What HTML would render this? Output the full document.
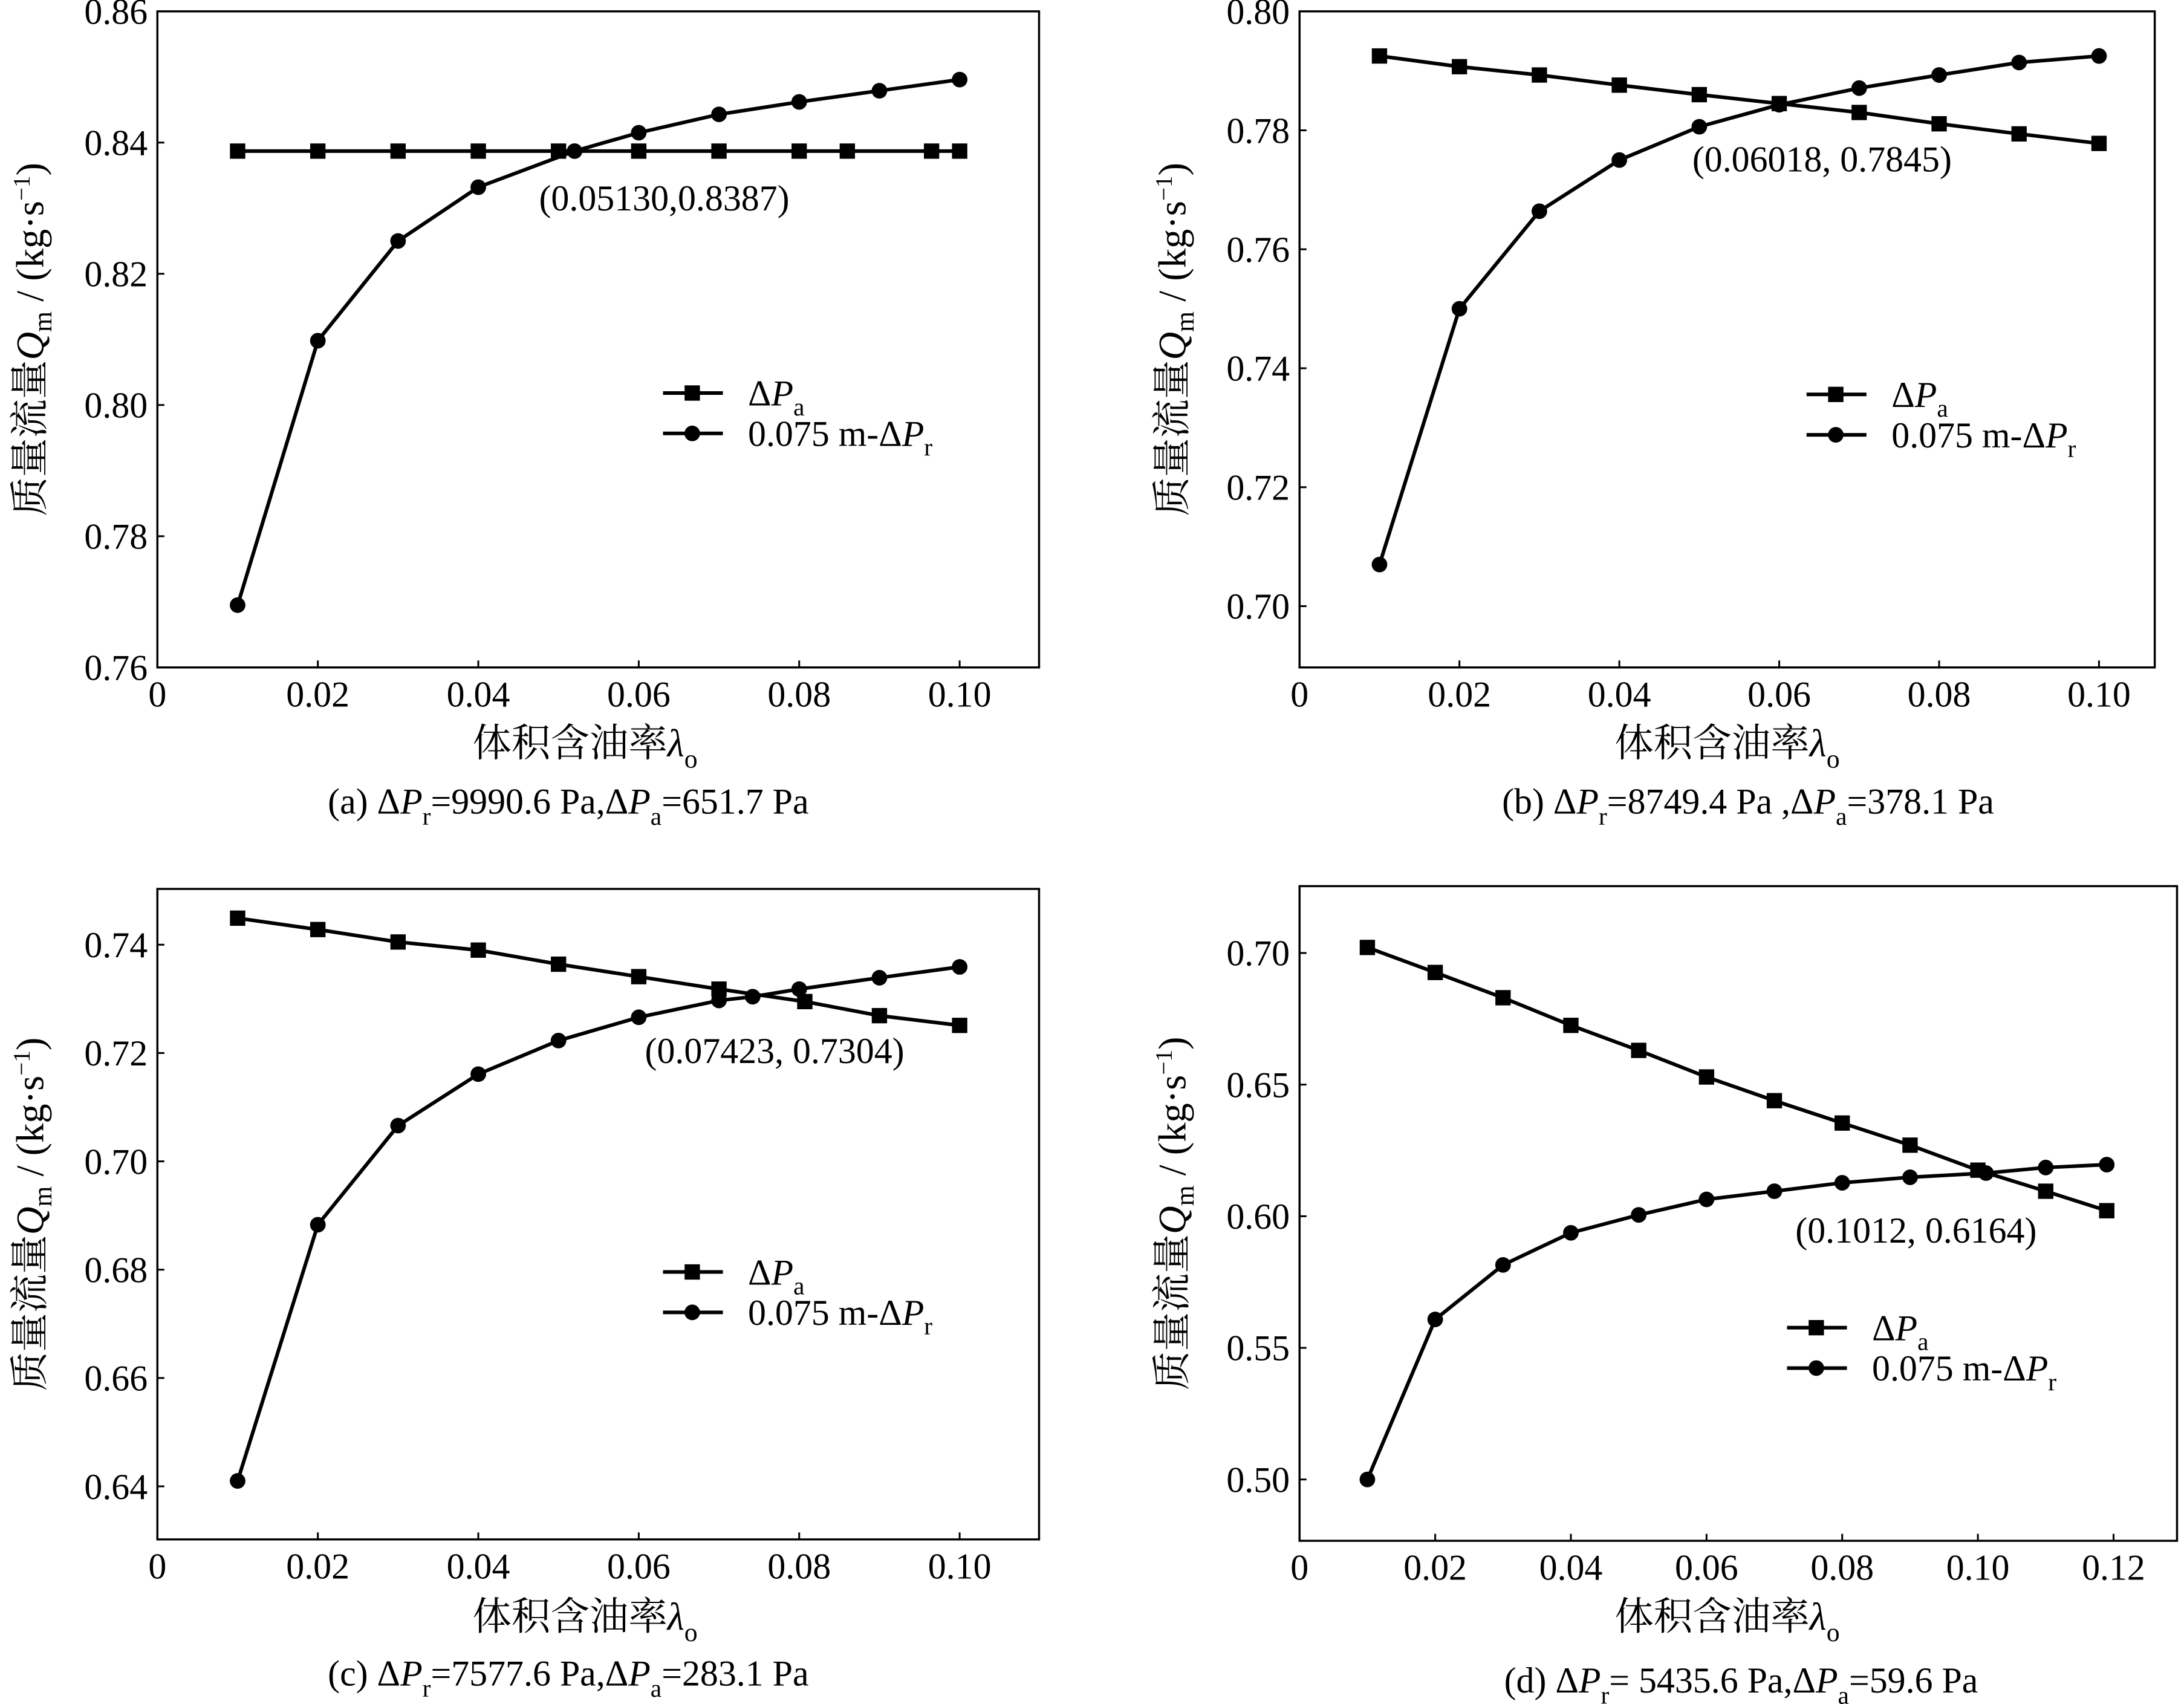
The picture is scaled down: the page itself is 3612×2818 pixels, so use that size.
<!DOCTYPE html>
<html><head><meta charset="utf-8"><style>
html,body{margin:0;padding:0;background:#fff;}
svg{display:block;}
text{font-family:"Liberation Serif","Noto Serif CJK SC","Noto Sans CJK SC",serif;fill:#000;}
</style></head><body>
<svg id="fig" width="3612" height="2818" viewBox="0 0 1568 1223" xmlns="http://www.w3.org/2000/svg"></svg>
<script>
// Panel (a)
const aSqX=[0.01,0.02,0.03,0.04,0.05,0.06,0.07,0.08,0.086,0.0965,0.10];
const aSqY=[0.8387,0.8387,0.8387,0.8387,0.8387,0.8387,0.8387,0.8387,0.8387,0.8387,0.8387];
const aCiX=[0.01,0.02,0.03,0.04,0.052,0.06,0.07,0.08,0.09,0.10];
const aCiY=[0.7695,0.8098,0.825,0.8332,0.8387,0.8415,0.8443,0.8462,0.8479,0.8496];
const aYTicks=["0.76","0.78","0.80","0.82","0.84","0.86"];
const aXTicks=["0","0.02","0.04","0.06","0.08","0.10"];
// Panel (b)
const bSqX=[0.01,0.02,0.03,0.04,0.05,0.06,0.07,0.08,0.09,0.10];
const bSqY=[0.7925,0.7907,0.7893,0.7876,0.786,0.7845,0.783,0.7811,0.7794,0.7778];
const bCiX=[0.01,0.02,0.03,0.04,0.05,0.06,0.07,0.08,0.09,0.10];
const bCiY=[0.707,0.75,0.7664,0.775,0.7806,0.7843,0.7871,0.7893,0.7914,0.7925];
const bYTicks=["0.70","0.72","0.74","0.76","0.78","0.80"];
const bXTicks=["0","0.02","0.04","0.06","0.08","0.10"];
// Panel (c)
const cSqX=[0.01,0.02,0.03,0.04,0.05,0.06,0.07,0.0807,0.09,0.10];
const cSqY=[0.7449,0.7428,0.7405,0.739,0.7364,0.7341,0.7318,0.7295,0.7269,0.7251];
const cCiX=[0.01,0.02,0.03,0.04,0.05,0.06,0.07,0.0742,0.08,0.09,0.10];
const cCiY=[0.641,0.6883,0.7066,0.7161,0.7223,0.7266,0.7297,0.7304,0.7318,0.7339,0.7359];
const cYTicks=["0.64","0.66","0.68","0.70","0.72","0.74"];
const cXTicks=["0","0.02","0.04","0.06","0.08","0.10"];
// Panel (d)
const dSqX=[0.01,0.02,0.03,0.04,0.05,0.06,0.07,0.08,0.09,0.10,0.11,0.119];
const dSqY=[0.7021,0.6926,0.683,0.6725,0.663,0.6529,0.6439,0.6354,0.627,0.6175,0.6095,0.6021];
const dCiX=[0.01,0.02,0.03,0.04,0.05,0.06,0.07,0.08,0.09,0.1012,0.11,0.119];
const dCiY=[0.50,0.5608,0.5815,0.5937,0.6005,0.6064,0.6095,0.6127,0.6148,0.6164,0.6185,0.6196];
const dYTicks=["0.50","0.55","0.60","0.65","0.70"];
const dXTicks=["0","0.02","0.04","0.06","0.08","0.10","0.12"];

const NS="http://www.w3.org/2000/svg";
const svg=document.getElementById('fig');
function mk(tag,attrs,parent){const e=document.createElementNS(NS,tag);for(const k in attrs)e.setAttribute(k,attrs[k]);(parent||svg).appendChild(e);return e;}

function panel(p){
  const g=mk('g',{});
  
  
  const L=p.box[0],T=p.box[1],R=p.box[2],B=p.box[3];
  const sx=v=>L+(v-p.xd[0])/(p.xd[1]-p.xd[0])*(R-L);
  const sy=v=>B-(v-p.yd[0])/(p.yd[1]-p.yd[0])*(B-T);
  const frame=mk('rect',{x:L,y:T,width:R-L,height:B-T,fill:'none',stroke:'#000','stroke-width':1.5},g);
  
  
  p.yt.forEach(t=>{const v=parseFloat(t),y=sy(v);
    mk('line',{x1:L,x2:L+5,y1:y,y2:y,stroke:'#000','stroke-width':1.3},g);
    const tx=mk('text',{x:L-7,y:y+9,'text-anchor':'end','font-size':26},g);tx.textContent=t;
    
    });
  p.xt.forEach(t=>{const v=parseFloat(t),x=sx(v);
    mk('line',{x1:x,x2:x,y1:B,y2:B-5,stroke:'#000','stroke-width':1.3},g);
    const tx=mk('text',{x:x,y:B+28,'text-anchor':'middle','font-size':26},g);tx.textContent=t;
    
    });
  const sq=mk('polyline',{points:p.sqX.map((x,i)=>sx(x)+','+sy(p.sqY[i])).join(' '),fill:'none',stroke:'#000','stroke-width':2.6},g);
  
  
  p.sqX.forEach((x,i)=>{const r=mk('rect',{x:sx(x)-5.5,y:sy(p.sqY[i])-5.5,width:11,height:11,fill:'#000'},g);
    
    });
  const ci=mk('polyline',{points:p.ciX.map((x,i)=>sx(x)+','+sy(p.ciY[i])).join(' '),fill:'none',stroke:'#000','stroke-width':2.6},g);
  
  
  p.ciX.forEach((x,i)=>{const c=mk('circle',{cx:sx(x),cy:sy(p.ciY[i]),r:5.6,fill:'#000'},g);
    
    });
  const an=mk('text',{x:p.ann[0],y:p.ann[1],'font-size':26},g);an.textContent=p.ann[2];
  
  
  const lg=mk('g',{},g);
  
  
  const lx=p.leg[0],ly=p.leg[1];
  mk('line',{x1:lx,x2:lx+43,y1:ly,y2:ly,stroke:'#000','stroke-width':2.6},lg);
  mk('rect',{x:lx+15.5,y:ly-5.5,width:11,height:11,fill:'#000'},lg);
  const t1=mk('text',{x:lx+61,y:ly+9,'font-size':26},lg);
  t1.innerHTML='Δ<tspan font-style="italic">P</tspan><tspan font-size="18" dy="7">a</tspan>';
  mk('line',{x1:lx,x2:lx+43,y1:ly+29,y2:ly+29,stroke:'#000','stroke-width':2.6},lg);
  mk('circle',{cx:lx+21,cy:ly+29,r:5.6,fill:'#000'},lg);
  const t2=mk('text',{x:lx+61,y:ly+38,'font-size':26},lg);
  t2.innerHTML='0.075 m-Δ<tspan font-style="italic">P</tspan><tspan font-size="18" dy="7">r</tspan>';
  const yl=mk('text',{transform:`translate(${L-82},${(T+B)/2}) rotate(-90)`,'text-anchor':'middle','font-size':28},g);
  yl.innerHTML='质量流量<tspan font-style="italic">Q</tspan><tspan font-size="19" dy="6">m</tspan><tspan dy="-6"> / (kg·s</tspan><tspan font-size="17" dy="-10">−1</tspan><tspan dy="10">)</tspan>';
  
  
  const xl=mk('text',{x:p.xlab[0],y:p.xlab[1],'text-anchor':'middle','font-size':28},g);
  xl.innerHTML='体积含油率<tspan font-style="italic">λ</tspan><tspan font-size="19" dy="8">o</tspan>';
  
  
  const cp=mk('text',{x:p.cap[0],y:p.cap[1],'text-anchor':'middle','font-size':26},g);
  cp.innerHTML=p.cap[2];
  
  
}
const sub=s=>`<tspan font-size="18" dy="8">${s}</tspan><tspan dy="-8">`;
panel({id:'a',box:[113,8,746,479],xd:[0,0.1099],yd:[0.76,0.86],sqX:aSqX,sqY:aSqY,ciX:aCiX,ciY:aCiY,yt:aYTicks,xt:aXTicks,
  ann:[387,151,'(0.05130,0.8387)'],leg:[476,282],xlab:[420,543],
  cap:[408,584,'(a) Δ<tspan font-style="italic">P</tspan>'+sub('r')+'=9990.6 Pa,Δ</tspan><tspan font-style="italic">P</tspan>'+sub('a')+'=651.7 Pa</tspan>']});
panel({id:'b',box:[933,8,1547,479],xd:[0,0.10697],yd:[0.6897,0.80],sqX:bSqX,sqY:bSqY,ciX:bCiX,ciY:bCiY,yt:bYTicks,xt:bXTicks,
  ann:[1215,123,'(0.06018, 0.7845)'],leg:[1297,283],xlab:[1240,543],
  cap:[1255,584,'(b) Δ<tspan font-style="italic">P</tspan>'+sub('r')+'=8749.4 Pa ,Δ</tspan><tspan font-style="italic">P</tspan>'+sub('a')+'=378.1 Pa</tspan>']});
panel({id:'c',box:[113,638,746,1105],xd:[0,0.1099],yd:[0.6302,0.7503],sqX:cSqX,sqY:cSqY,ciX:cCiX,ciY:cCiY,yt:cYTicks,xt:cXTicks,
  ann:[463,763,'(0.07423, 0.7304)'],leg:[476,913],xlab:[420,1170],
  cap:[408,1210,'(c) Δ<tspan font-style="italic">P</tspan>'+sub('r')+'=7577.6 Pa,Δ</tspan><tspan font-style="italic">P</tspan>'+sub('a')+'=283.1 Pa</tspan>']});
panel({id:'d',box:[933,636,1563,1106],xd:[0,0.12936],yd:[0.4767,0.7254],sqX:dSqX,sqY:dSqY,ciX:dCiX,ciY:dCiY,yt:dYTicks,xt:dXTicks,
  ann:[1289,892,'(0.1012, 0.6164)'],leg:[1283,953],xlab:[1240,1170],
  cap:[1250,1215,'(d) Δ<tspan font-style="italic">P</tspan>'+sub('r')+'= 5435.6 Pa,Δ</tspan><tspan font-style="italic">P</tspan>'+sub('a')+'=59.6 Pa</tspan>']});
</script>
</body></html>
